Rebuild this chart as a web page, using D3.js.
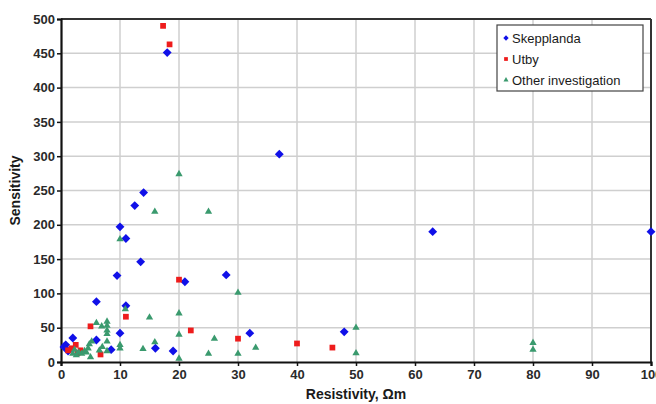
<!DOCTYPE html>
<html>
<head>
<meta charset="utf-8">
<script src="https://cdn.jsdelivr.net/npm/d3@7"></script>
<style>
  body { margin: 0; background: #fff; }
  svg { font-family: "Liberation Sans", Arial, sans-serif; }
</style>
</head>
<body>
<svg id="chart" width="656" height="404"></svg>
<script>
// Skepplanda [resistivity, sensitivity]
const skepplanda = [
  [0.5, 22], [0.8, 25], [1.2, 16], [2, 35], [6, 88], [6, 32], [8.5, 18],
  [9.5, 126], [10, 197], [10, 42], [11, 180], [11, 82], [12.5, 228],
  [13.5, 146], [14, 247], [16, 20], [18, 451], [19, 16], [21, 117],
  [28, 127], [32, 42], [37, 303], [48, 44], [63, 190], [100, 190]
];
const utby = [
  [1.2, 17], [1.8, 20], [2.5, 25], [2.8, 13], [3.3, 17], [5, 52], [6.7, 11],
  [11, 66], [17.3, 490], [18.4, 463], [20, 120], [22, 46], [30, 34],
  [40, 27], [46, 21]
];
const otherInv = [
  [2, 12], [2.3, 18], [2.6, 10], [3, 14], [3.5, 12], [4, 16], [4.3, 14],
  [4.6, 20], [4.8, 26], [5, 7], [5.2, 30], [6, 57], [6.5, 17], [6.9, 52],
  [7, 22], [7.8, 59], [7.8, 53], [7.8, 46], [7.8, 41], [7.8, 30], [7.8, 16],
  [10, 25], [10, 20], [10, 179], [10.9, 77], [13.9, 19], [15, 65],
  [15.9, 29], [15.9, 219], [20, 274], [20, 71], [20, 40], [20, 5],
  [25, 219], [25, 12], [26, 34], [30, 101], [30, 12], [33, 21], [50, 50],
  [50, 13], [80, 28], [80, 18]
];
const xTicks = [0, 10, 20, 30, 40, 50, 60, 70, 80, 90, 100];
const yTicks = [0, 50, 100, 150, 200, 250, 300, 350, 400, 450, 500];

const series = [
  { name: "Skepplanda", data: skepplanda, color: "#1010e8", shape: d3.symbolDiamond2, size: 50 },
  { name: "Utby", data: utby, color: "#ee1c1c", shape: d3.symbolSquare2, size: 42 },
  { name: "Other investigation", data: otherInv, color: "#3a9a6e", shape: d3.symbolTriangle2, size: 38 }
];

const svg = d3.select("#chart");
const margin = { top: 19, right: 5, bottom: 42, left: 61 };
const width = 656 - margin.left - margin.right;
const height = 404 - margin.top - margin.bottom;

const x = d3.scaleLinear().domain([0, 100]).range([0, width]);
const y = d3.scaleLinear().domain([0, 500]).range([height, 0]);

const g = svg.append("g").attr("transform", `translate(${margin.left},${margin.top})`);

// grid
g.append("g").selectAll("line").data(xTicks.slice(1, -1)).enter().append("line")
  .attr("x1", d => x(d)).attr("x2", d => x(d)).attr("y1", 0).attr("y2", height)
  .attr("stroke", "#cfcfcf").attr("stroke-width", 1.5);
g.append("g").selectAll("line").data(yTicks.slice(1, -1)).enter().append("line")
  .attr("x1", 0).attr("x2", width).attr("y1", d => y(d)).attr("y2", d => y(d))
  .attr("stroke", "#cfcfcf").attr("stroke-width", 1.5);

// frame top/right
g.append("line").attr("x1", 0).attr("x2", width).attr("y1", 0).attr("y2", 0)
  .attr("stroke", "#333").attr("stroke-width", 2);
g.append("line").attr("x1", width).attr("x2", width).attr("y1", 0).attr("y2", height)
  .attr("stroke", "#333").attr("stroke-width", 2);

// axes
const xAxis = g.append("g").attr("transform", `translate(0,${height})`)
  .call(d3.axisBottom(x).tickValues(xTicks).tickSize(4).tickPadding(4));
const yAxis = g.append("g")
  .call(d3.axisLeft(y).tickValues(yTicks).tickSize(4).tickPadding(2));
[xAxis, yAxis].forEach(a => {
  a.select(".domain").attr("stroke", "#111").attr("stroke-width", 2.2);
  a.selectAll(".tick line").attr("stroke", "#111").attr("stroke-width", 1.5);
  a.selectAll(".tick text").attr("fill", "#2a2a2a")
    .style("font-size", "13px").style("font-weight", "bold");
});

// points
series.forEach(s => {
  g.append("g").selectAll("path").data(s.data).enter().append("path")
    .attr("d", d3.symbol().type(s.shape).size(s.size))
    .attr("transform", d => `translate(${x(d[0])},${y(d[1])})`)
    .attr("fill", s.color);
});

// axis titles
svg.append("text")
  .attr("x", margin.left + width / 2).attr("y", 399)
  .attr("text-anchor", "middle")
  .style("font-size", "14px").style("font-weight", "bold").attr("fill", "#1a1a1a")
  .text("Resistivity, Ωm");
svg.append("text")
  .attr("transform", `translate(20,${margin.top + height / 2}) rotate(-90)`)
  .attr("text-anchor", "middle")
  .style("font-size", "14px").style("font-weight", "bold").attr("fill", "#1a1a1a")
  .text("Sensitivity");

// legend
const legend = svg.append("g").attr("transform", "translate(497,25)");
legend.append("rect").attr("width", 146).attr("height", 66)
  .attr("fill", "#fff").attr("stroke", "#444").attr("stroke-width", 1.2);
series.forEach((s, i) => {
  const row = legend.append("g").attr("transform", `translate(0,${13 + i * 21})`);
  row.append("path").attr("d", d3.symbol().type(s.shape).size(18)())
    .attr("transform", "translate(9,0)").attr("fill", s.color);
  row.append("text").attr("x", 15).attr("y", 5)
    .style("font-size", "13px").attr("fill", "#1a1a1a").text(s.name);
});
</script>
</body>
</html>
